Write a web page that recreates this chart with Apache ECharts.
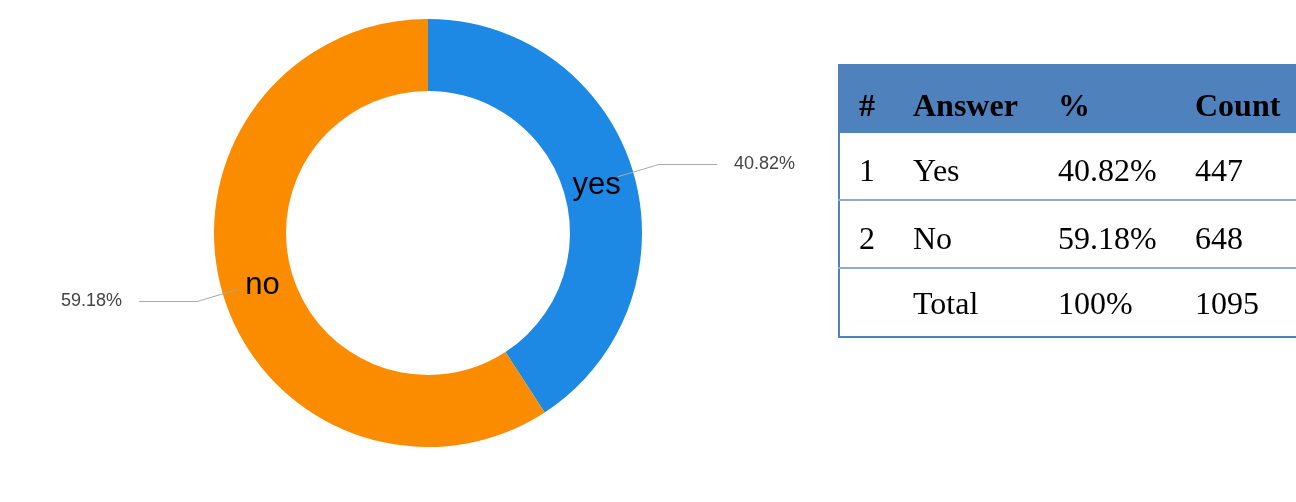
<!DOCTYPE html>
<html>
<head>
<meta charset="utf-8">
<script src="https://cdn.jsdelivr.net/npm/echarts@6/dist/echarts.min.js"></script>
<style>
  html, body { margin: 0; padding: 0; background: #fff; }
  #chart { width: 1296px; height: 502px; }
</style>
</head>
<body>
<div id="chart"></div>
<script>
// Survey answers
const answers = ['Yes', 'No'];
const sliceLabels = ['yes', 'no'];
const counts = [447, 648];
const colors = ['#1E88E5', '#FB8C00'];
const tableHeaders = ['#', 'Answer', '%', 'Count'];

const total = counts.reduce((a, b) => a + b, 0);
const pct = counts.map(c => (c / total * 100).toFixed(2) + '%');

// nudges for the in-ring name labels
const nameOffsets = [[-5, 4], [8, 1]];

const pieData = answers.map((a, i) => ({
  name: sliceLabels[i],
  value: counts[i],
  itemStyle: { color: colors[i] },
  label: { offset: nameOffsets[i] }
}));

// Table rows built from the same counts
const tableRows = answers.map((a, i) => [String(i + 1), a, pct[i], String(counts[i])]);
tableRows.push(['', 'Total', '100%', String(total)]);

const colX = [859, 913, 1058, 1195];
const rowY = [105, 170, 238, 303].map(y => y + 3);
const lineY = [200, 268, 337];
const serif = '"Liberation Serif", "Times New Roman", serif';

const graphics = [
  { type: 'rect', shape: { x: 838, y: 64, width: 470, height: 69 }, style: { fill: '#4F81BD' }, silent: true },
  { type: 'line', shape: { x1: 839, y1: 64, x2: 839, y2: 338 }, style: { stroke: '#4F81BD', lineWidth: 2 }, silent: true }
];
lineY.forEach((y, i) => {
  graphics.push({
    type: 'line',
    shape: { x1: 838, y1: y, x2: 1300, y2: y },
    style: { stroke: i === lineY.length - 1 ? '#4F81BD' : '#93AACF', lineWidth: 2 },
    silent: true
  });
});
tableHeaders.forEach((h, c) => {
  graphics.push({
    type: 'text', x: colX[c], y: rowY[0], silent: true,
    style: { text: h, font: 'bold 32px ' + serif, fill: '#000', textVerticalAlign: 'middle', textAlign: 'left' }
  });
});
tableRows.forEach((row, r) => {
  row.forEach((cell, c) => {
    graphics.push({
      type: 'text', x: colX[c], y: rowY[r + 1], silent: true,
      style: { text: cell, font: '32px ' + serif, fill: '#000', textVerticalAlign: 'middle', textAlign: 'left' }
    });
  });
});

const chart = echarts.init(document.getElementById('chart'), null, { renderer: 'canvas' });
chart.setOption({
  backgroundColor: '#fff',
  animation: false,
  series: [
    {
      // donut ring with names inside
      type: 'pie',
      center: [428, 233],
      radius: [142, 214],
      startAngle: 90,
      clockwise: true,
      silent: true,
      data: pieData,
      label: {
        show: true,
        position: 'inside',
        formatter: '{b}',
        color: '#000',
        fontSize: 31,
        fontFamily: 'Arial, "Liberation Sans", sans-serif'
      },
      labelLine: { show: false }
    },
    {
      // invisible ring carrying the percentage callouts
      type: 'pie',
      center: [428, 233],
      radius: [0, 198],
      startAngle: 90,
      clockwise: true,
      silent: true,
      z: 3,
      data: pieData.map(d => ({ name: d.name, value: d.value, itemStyle: { color: 'rgba(0,0,0,0)' } })),
      label: {
        show: true,
        position: 'outside',
        formatter: '{d}%',
        color: '#444',
        fontSize: 18,
        fontFamily: 'Arial, "Liberation Sans", sans-serif',
        distanceToLabelLine: 17
      },
      labelLine: {
        show: true,
        length: 43,
        length2: 58,
        lineStyle: { color: '#aaa', width: 1 }
      }
    }
  ],
  graphic: graphics
});
</script>
</body>
</html>
